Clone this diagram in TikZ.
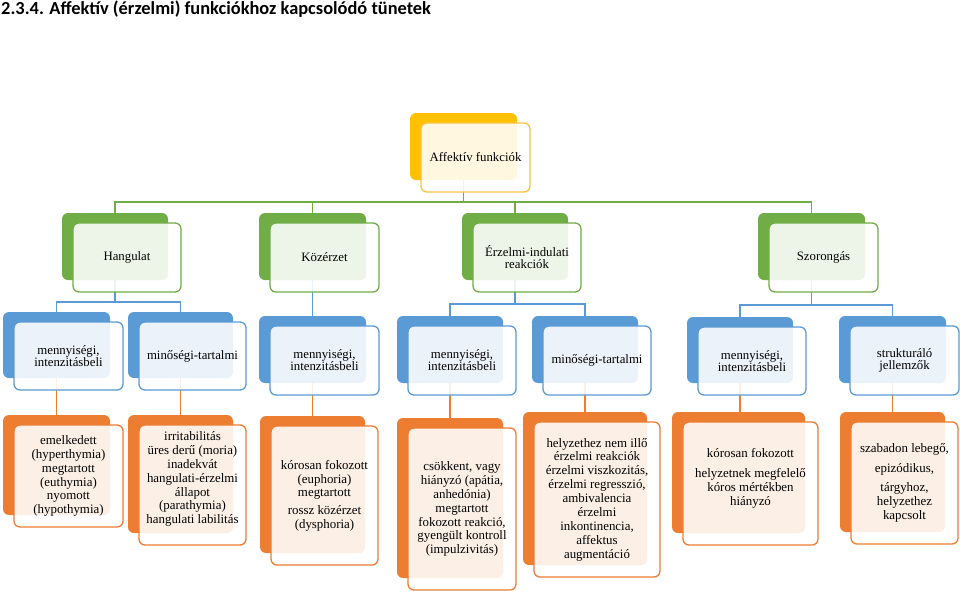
\documentclass[tikz,border=0pt]{standalone}
\usepackage{fontspec}
\setmainfont{Liberation Serif}
\newfontfamily\titlefont{Carlito}
\usetikzlibrary{backgrounds}
\definecolor{cYel}{HTML}{FFC000}
\definecolor{cYelB}{HTML}{F6C443}
\definecolor{cGrn}{HTML}{70AD47}
\definecolor{cBlu}{HTML}{5B9BD5}
\definecolor{cOra}{HTML}{ED7D31}
\newcommand\twobox[7][]{%
  \node[backbox=#3, minimum width={(#6-#4)*1pt}, minimum height={(#7-#5)*1pt}] (b#2) at ({(#4+#6)/2},{(#5+#7)/2}) {};
  \node[frontbox=#3, minimum width={(#6-#4+2)*1pt}, minimum height={(#7-#5+2)*1pt}, #1] (f#2) at ({(#4+#6)/2+12},{(#5+#7)/2+11}) {};
}
\begin{document}
\begin{tikzpicture}[x=1pt,y=-1pt,
  backbox/.style={fill=#1, draw=none, rounded corners=6pt, inner sep=0pt},
  frontbox/.style={fill=white, fill opacity=0.88, draw=#1, draw opacity=1, line width=1.3pt, rounded corners=6pt, inner sep=0pt},
  txt/.style={align=center, font=\fontsize{12.8}{12}\selectfont, inner sep=0pt},
  txtb/.style={align=center, font=\fontsize{12.9}{13.9}\selectfont, inner sep=0pt},
  conn/.style={draw=#1, line width=1.2pt},
]
\useasboundingbox (0,0) rectangle (960,590);

\node[anchor=west, font=\titlefont\bfseries\fontsize{18.4}{20}\selectfont, inner sep=0pt] (title) at (1,9) {2.3.4. Affektív (érzelmi) funkciókhoz kapcsolódó tünetek};

% level 1
\twobox[draw=cYelB]{0}{cYel}{410}{113}{517}{180}
\node[txt] (t0) at (f0) {Affektív funkciók};

% level 2
\twobox{H}{cGrn}{62}{213}{168}{280}
\twobox{K}{cGrn}{259}{213}{366}{280}
\twobox{E}{cGrn}{462}{213}{568}{280}
\twobox{S}{cGrn}{758}{213}{865}{280}
\node[txt] (tH) at (fH) {Hangulat};
\node[txt] (tK) at (fK) {Közérzet};
\node[txt] (tE) at (fE) {Érzelmi-indulati\\reakciók};
\node[txt] (tS) at (fS) {Szorongás};

% level 3
\twobox{1}{cBlu}{3}{312}{110}{378}
\twobox{2}{cBlu}{128}{312}{233}{378}
\twobox{3}{cBlu}{259}{316}{366}{383}
\twobox{4}{cBlu}{397}{316}{503}{383}
\twobox{5}{cBlu}{532}{316}{638}{383}
\twobox{6}{cBlu}{687}{317}{793}{383}
\twobox{7}{cBlu}{839}{316}{946}{383}
\node[txt] (t1) at (f1) {mennyiségi,\\intenzitásbeli};
\node[txt] (t2) at (f2) {minőségi-tartalmi};
\node[txt] (t3) at (f3) {mennyiségi,\\intenzitásbeli};
\node[txt] (t4) at (f4) {mennyiségi,\\intenzitásbeli};
\node[txt] (t5) at (f5) {minőségi-tartalmi};
\node[txt] (t6) at (f6) {mennyiségi,\\intenzitásbeli};
\node[txt] (t7) at (f7) {strukturáló\\jellemzők};

% level 4
\twobox{A}{cOra}{3}{415}{110}{515}
\twobox{B}{cOra}{128}{415}{233}{533}
\twobox{C}{cOra}{260}{416}{365}{553}
\twobox{D}{cOra}{397}{418}{503}{578}
\twobox{X}{cOra}{523}{412}{647}{565}
\twobox{F}{cOra}{672}{412}{805}{533}
\twobox{G}{cOra}{840}{412}{945}{532}
\node[txtb] (tA) at (fA) {emelkedett\\(hyperthymia)\\megtartott\\(euthymia)\\nyomott\\(hypothymia)};
\node[txtb] (tB) at ([yshift=6pt]fB) {irritabilitás\\üres derű (moria)\\inadekvát\\hangulati-érzelmi\\állapot\\(parathymia)\\hangulati labilitás};
\node[txtb] (tC) at (fC) {kórosan fokozott\\(euphoria)\\megtartott\\[3.5pt]rossz közérzet\\(dysphoria)};
\node[txtb] (tD) at (fD) {csökkent, vagy\\hiányzó (apátia,\\anhedónia)\\megtartott\\fokozott reakció,\\gyengült kontroll\\(impulzivitás)};
\node[txtb] (tX) at (fX) {helyzethez nem illő\\érzelmi reakciók\\érzelmi viszkozitás,\\érzelmi regresszió,\\ambivalencia\\érzelmi\\inkontinencia,\\affektus\\augmentáció};
\node[txtb] (tF) at ([yshift=5pt]fF) {kórosan fokozott\\[6pt]helyzetnek megfelelő\\kóros mértékben\\hiányzó};
\node[txtb] (tG) at (fG) {szabadon lebegő,\\[5.5pt]epizódikus,\\[5.5pt]tárgyhoz,\\helyzethez\\kapcsolt};

% connectors
\coordinate (bus1) at (0,202);
\coordinate (bus2) at (0,302);
\coordinate (bus3) at (0,304);
\coordinate (bus4) at (0,305);
\begin{scope}[on background layer]
  \foreach \c in {H,K,E,S}
    \draw[conn=cGrn] (b0.south) |- (b\c.north |- bus1) -- (b\c.north);
  \foreach \c in {1,2}
    \draw[conn=cBlu] (bH.south) |- (b\c.north |- bus2) -- (b\c.north);
  \draw[conn=cBlu] (bK.south) -- (b3.north);
  \foreach \c in {4,5}
    \draw[conn=cBlu] (bE.south) |- (b\c.north |- bus3) -- (b\c.north);
  \foreach \c in {6,7}
    \draw[conn=cBlu] (bS.south) |- (b\c.north |- bus4) -- (b\c.north);
  \draw[conn=cOra] (b1.south) -- (bA.north);
  \draw[conn=cOra] (b2.south) -- (bB.north);
  \draw[conn=cOra] (b3.south) -- (bC.north);
  \draw[conn=cOra] (b4.south) -- (bD.north);
  \draw[conn=cOra] (b5.south) -- (bX.north);
  \draw[conn=cOra] (b6.south) -- (b6.south |- bF.north);
  \draw[conn=cOra] (b7.south) -- (bG.north);
\end{scope}
\end{tikzpicture}
\end{document}
